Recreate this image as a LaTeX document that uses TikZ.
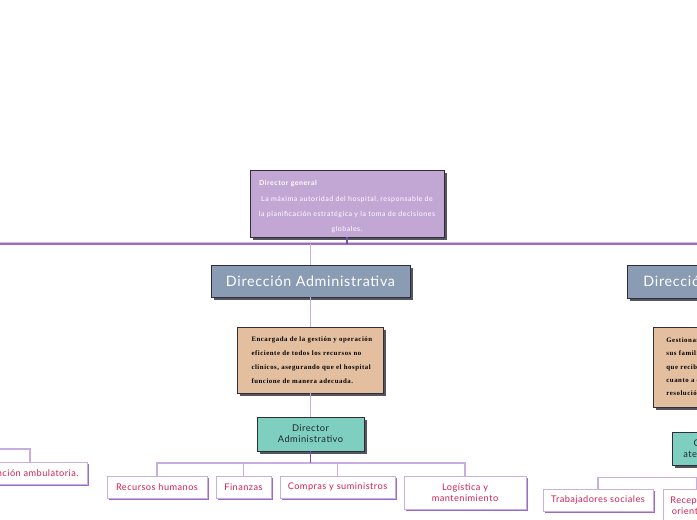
\documentclass[tikz,border=0pt]{standalone}
\usepackage{fontspec}
\setmainfont{Lato}[LetterSpace=5]
\newfontfamily\dgfont{Lato}[LetterSpace=7.5]
\newfontfamily\descfont{Liberation Serif}[LetterSpace=8]
\usetikzlibrary{shadows}
\definecolor{dgfill}{HTML}{C2A7D4}
\definecolor{dafill}{HTML}{8A9BB4}
\definecolor{descfill}{HTML}{E3BFA0}
\definecolor{tealfill}{HTML}{7FCFC1}
\definecolor{tealtext}{HTML}{1F2A2A}
\definecolor{boxline}{HTML}{2E2E3A}
\definecolor{shadowgrey}{HTML}{555560}
\definecolor{leafline}{HTML}{C8B0E0}
\definecolor{leafshadow}{HTML}{9A6CC8}
\definecolor{leaftext}{HTML}{D42050}
\definecolor{connlight}{HTML}{C8AEE0}
\definecolor{conndark}{HTML}{7B4FA8}
\definecolor{buslight}{HTML}{CDBFDA}
\definecolor{busdark}{HTML}{9C6CC6}
\begin{document}
\begin{tikzpicture}[x=1pt,y=-1pt,
  mainbox/.style={draw=boxline, line width=0.8pt, inner sep=0pt,
    drop shadow={shadow xshift=2.5pt, shadow yshift=-2.5pt, fill=shadowgrey, opacity=1}},
  leaf/.style={draw=leafline, line width=0.8pt, fill=white, text=leaftext,
    font=\fontsize{9.2}{11}\selectfont, align=center, inner sep=0pt, minimum height=22pt,
    drop shadow={shadow xshift=2pt, shadow yshift=-2pt, fill=leafshadow, opacity=1}},
  conn/.style={draw=connlight, line width=1.2pt},
  stem/.style={draw=conndark, line width=1.4pt},
  titlefont/.style={font=\fontsize{14.3}{16}\selectfont},
  roletext/.style={font=\fontsize{9.3}{11}\selectfont},
]
\useasboundingbox (0,0) rectangle (697,520);
\clip (0,0) rectangle (697,520);

% central branch
\node[mainbox, fill=dgfill, minimum width=194pt, minimum height=67pt, text=white,
  align=center, font=\dgfont\fontsize{7}{15.3}\selectfont] (dg) at (347,203.5)
  {\rule{0pt}{12pt}\makebox[176pt][l]{\bfseries Director general}\\La máxima autoridad del hospital, responsable de\\la planificación estratégica y la toma de decisiones\\globales.};

\node[mainbox, fill=dafill, minimum width=199pt, minimum height=32pt, text=white, titlefont] (da) at (310.5,281) {Dirección Administrativa};

\node[mainbox, fill=descfill, text width=118pt, inner xsep=14pt, minimum height=66pt,
  align=left, font=\descfont\bfseries\fontsize{6.8}{14.2}\selectfont] (dd) at (310.5,360)
  {\mbox{Encargada de la gestión y operación}\\\mbox{eficiente de todos los recursos no}\\\mbox{clínicos, asegurando que el hospital}\\\mbox{funcione de manera adecuada.}};

\node[mainbox, fill=tealfill, minimum width=107pt, minimum height=34pt, align=center,
  text=tealtext, roletext] (dad) at (310.5,434) {Director\\Administrativo};

\node[leaf, minimum width=100pt] (rh) at (157,487) {Recursos humanos};
\node[leaf, minimum width=55pt] (fin) at (243.5,487) {Finanzas};
\node[leaf, minimum width=115pt] (cs) at (337.5,487) {Compras y suministros};
\node[leaf, minimum width=122pt, minimum height=33pt] (lm) at (465,492.5) {Logística y\\mantenimiento};

% left branch (partly outside)
\node[leaf, minimum width=114pt] (aa) at (30,473) {Atención ambulatoria.};

% right branch (partly outside)
\node[mainbox, fill=dafill, anchor=west, inner xsep=16pt, minimum height=33pt, text=white, titlefont] (rda) at (627,281.5) {Dirección de Atención al Paciente};
\node[mainbox, fill=descfill, anchor=north west, text width=150pt, inner xsep=13pt,
  minimum height=80pt, align=left, font=\descfont\bfseries\fontsize{6.8}{13.1}\selectfont] (rdd) at (653,327)
  {\mbox{Gestionar la relación con los pacientes y}\\\mbox{sus familiares, asegurando}\\\mbox{que reciban una atención adecuada en}\\\mbox{cuanto a comunicación, apoyo y}\\\mbox{resolución de problemas.}};
\node[mainbox, fill=tealfill, anchor=north west, inner xsep=11pt, minimum height=33pt,
  align=center, text=tealtext, roletext] (rdad) at (672,432) {Coordinador de\\atención al paciente};
\node[leaf, minimum width=110pt] (ts) at (598,500) {Trabajadores sociales};
\node[leaf, anchor=north west, inner xsep=7pt, minimum height=33pt] (ro) at (663,489) {Recepción y\\orientación};

% top bus
\coordinate (tl) at (-5,243.6);
\coordinate (tr) at (702,243.6);
\draw[buslight, line width=1pt] ([yshift=0.8pt]tl) -- ([yshift=0.8pt]tr);
\draw[busdark, line width=1.3pt] ([yshift=-0.5pt]tl) -- ([yshift=-0.5pt]tr);
\draw[stem] (dg.south) -- (dg.south |- tl);

% central connectors
\draw[conn] (da.north |- tl) -- (da.north);
\draw[conn] (da.south) -- (dd.north);
\draw[conn] (dd.south) -- (dad.north);
\coordinate (mb) at (310.5,463);
\draw[conn] (mb) -| (rh.north);
\draw[conn] (mb) -| (fin.north);
\draw[conn] (mb) -| (cs.north);
\draw[conn] (mb) -| (lm.north);
\draw[stem] (dad.south) -- (mb);

% left connectors
\coordinate (lb) at (-40,449);
\draw[conn] (lb) -| (aa.north);

% right connectors
\draw[conn] (rda.north |- tl) -- (rda.north);
\draw[conn] (rda.south) -- (rdd.north);
\draw[conn] (rdd.south) -- (rdad.north);
\path (rdad.south) ++(0,12) coordinate (rb);
\draw[conn] (rb) -| (ts.north);
\draw[conn] (rb) -| (ro.north);
\draw[stem] (rdad.south) -- (rb);
\end{tikzpicture}
\end{document}
